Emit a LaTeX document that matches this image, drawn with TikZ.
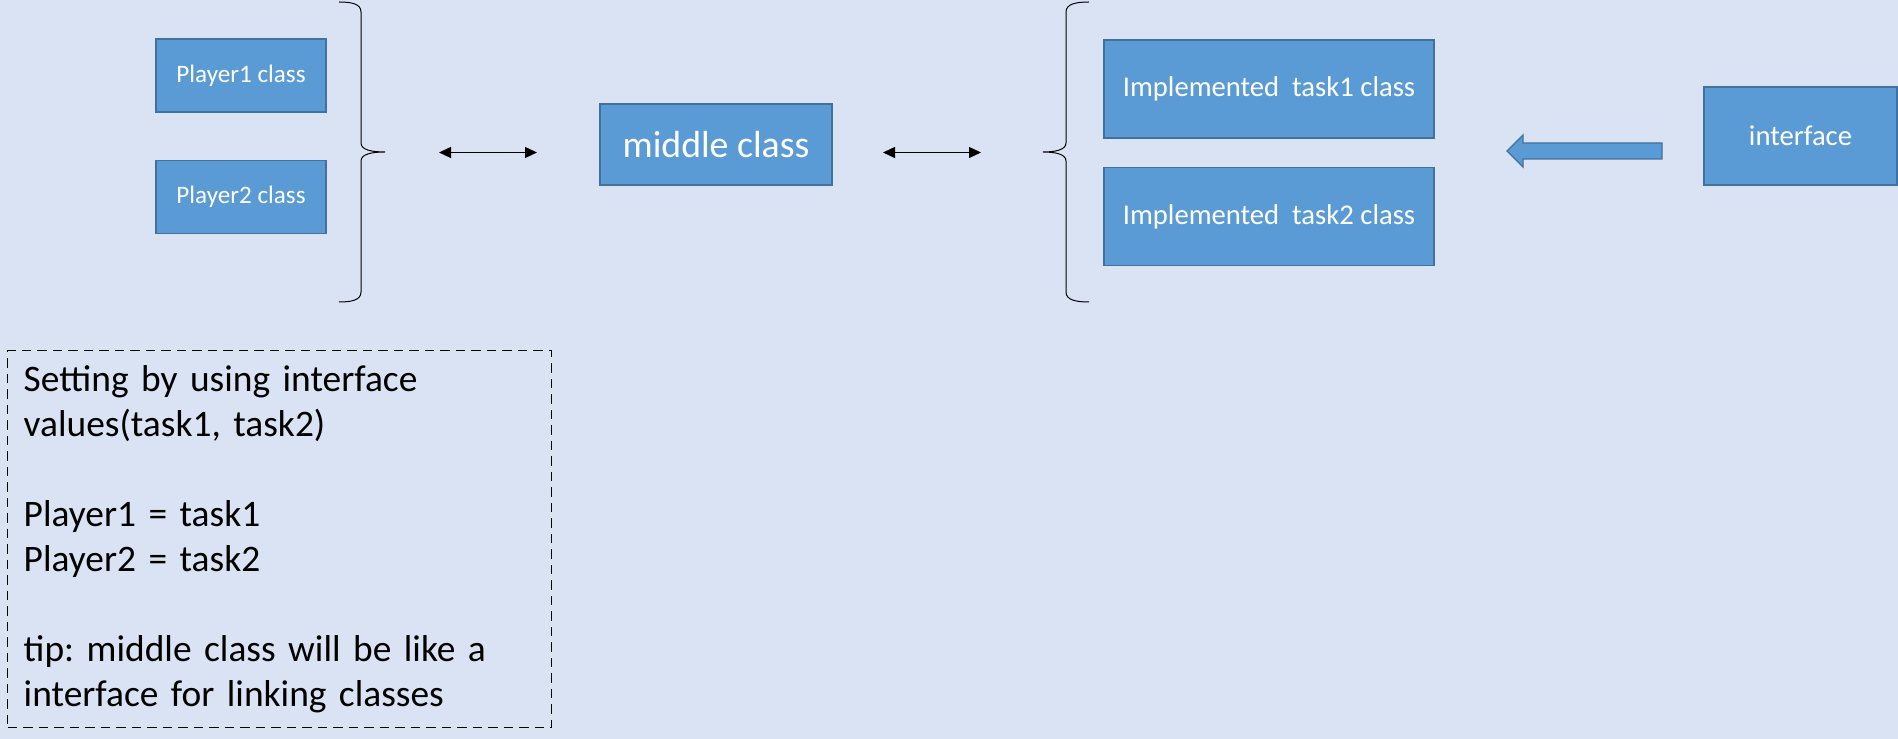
\documentclass[tikz,border=0pt]{standalone}
\usepackage{fontspec}
\setmainfont{Carlito}
\usepackage{xcolor}
\definecolor{colorBack}{HTML}{DAE3F3}
\definecolor{colorBox}{HTML}{5B9BD5}
\definecolor{colorBorder}{HTML}{41719C}
\usetikzlibrary{arrows.meta, positioning}
\tikzset{classbox/.style={draw=colorBorder, fill=colorBox, line width=0.03cm, text=white, inner sep=0pt}}
\tikzset{playerbox/.style={classbox, minimum width=3.4cm, minimum height=1.46cm, font=\fontsize{14.3pt}{17pt}\selectfont}}
\tikzset{taskbox/.style={classbox, minimum width=6.6cm, minimum height=1.96cm, font=\fontsize{16.3pt}{19pt}\selectfont}}
\tikzset{link/.style={{Triangle[length=0.24cm,width=0.22cm]}-{Triangle[length=0.24cm,width=0.22cm]}, line width=0.026cm}}
\frenchspacing

\begin{document}
\begin{tikzpicture}[x=0.02cm, y=-0.02cm]
\fill[colorBack] (0,0) rectangle (1898,739);
\useasboundingbox (0,0) rectangle (1898,739);
% players
\node[playerbox] (p1) at (241,75.5) {Player1 class};
\node[playerbox, below=0.94cm of p1] (p2) {Player2 class};
% middle
\node[classbox, minimum width=4.64cm, minimum height=1.62cm, font=\fontsize{21.5pt}{25pt}\selectfont] (mid) at (716,144.5) {middle class};
% tasks
\node[taskbox] (t1) at (1269,89) {Implemented~ task1 class};
\node[taskbox, below=0.56cm of t1] (t2) {Implemented~ task2 class};
% interface
\node[classbox, minimum width=3.86cm, minimum height=1.96cm, font=\fontsize{16.3pt}{19pt}\selectfont] (itf) at (1800.5,136) {interface};
% braces
\draw[line width=0.02cm] (339,2) .. controls (352,2) and (361,4) .. (361,12) -- (361,143) .. controls (361,150) and (372,152) .. (385,152) coordinate (b1) .. controls (372,152) and (361,154) .. (361,161) -- (361,292) .. controls (361,300) and (352,302) .. (339,302);
\draw[line width=0.02cm] (1089,2) .. controls (1076,2) and (1066,4) .. (1066,12) -- (1066,143) .. controls (1066,150) and (1055,152) .. (1043,152) coordinate (b2) .. controls (1055,152) and (1066,154) .. (1066,161) -- (1066,292) .. controls (1066,300) and (1076,302) .. (1089,302);
% links
\coordinate (a1) at (439,152.5);
\coordinate (a2) at (537,152.5);
\coordinate (a3) at (883,152.5);
\coordinate (a4) at (981,152.5);
\draw[link] (a1) -- (a2);
\draw[link] (a3) -- (a4);
% block arrow
\coordinate (tip) at (1507,151);
\draw[classbox, line width=0.025cm] (tip) -- (1523,135) -- (1523,143) -- (1662,143) -- (1662,159) -- (1523,159) -- (1523,167) -- cycle;
% note
\node[draw, dash pattern=on 0.19cm off 0.12cm, line width=0.03cm, anchor=north west, minimum width=10.88cm, minimum height=7.54cm, inner xsep=0.32cm, text width=10.24cm, align=left, font=\fontsize{21.3pt}{25.6pt}\selectfont] (note) at (7,350) {Setting by using interface\\values(task1, task2)\\[25.6pt]Player1 = task1\\Player2 = task2\\[25.6pt]tip: middle class will be like a\\interface for linking classes};
\end{tikzpicture}
\end{document}
